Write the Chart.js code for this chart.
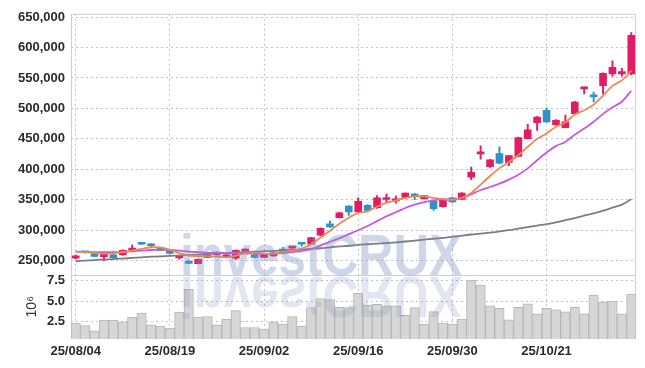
<!DOCTYPE html>
<html><head><meta charset="utf-8">
<script src="https://cdn.jsdelivr.net/npm/chart.js@4.4.1/dist/chart.umd.min.js"></script>
<style>html,body{margin:0;padding:0;background:#fff;overflow:hidden}#wrap{width:645px;height:368px;position:relative}</style>
</head><body><div id="wrap"><canvas id="c" width="645" height="368"></canvas></div>
<script>
// ---- data ----
const dates = ['25/08/04','25/08/05','25/08/06','25/08/07','25/08/08','25/08/11','25/08/12','25/08/13','25/08/14','25/08/18',
 '25/08/19','25/08/20','25/08/21','25/08/22','25/08/25','25/08/26','25/08/27','25/08/28','25/08/29','25/09/01',
 '25/09/02','25/09/03','25/09/04','25/09/05','25/09/08','25/09/09','25/09/10','25/09/11','25/09/12','25/09/15',
 '25/09/16','25/09/17','25/09/18','25/09/19','25/09/22','25/09/23','25/09/24','25/09/25','25/09/26','25/09/29',
 '25/09/30','25/10/01','25/10/02','25/10/10','25/10/13','25/10/14','25/10/15','25/10/16','25/10/17','25/10/20',
 '25/10/21','25/10/22','25/10/23','25/10/24','25/10/27','25/10/28','25/10/29','25/10/30','25/10/31','25/11/03'];
const xTickLabels = ['25/08/04','25/08/19','25/09/02','25/09/16','25/09/30','25/10/21'];
const priceTicks = [250000,300000,350000,400000,450000,500000,550000,600000,650000];
const volumeTicks = [2.5e6,5e6,7.5e6];
const opens  = [254000,263500,261500,256500,259500,259500,267500,277500,277500,271000,
 266500,254500,248000,245000,255500,259500,256500,254000,265500,259500,
 255500,258000,269000,270500,279500,277000,292000,310500,320500,339500,
 330000,341000,337000,350500,348000,354000,359500,352000,347500,338500,
 353000,350500,387000,425500,404500,426000,411500,421000,450500,476500,
 497000,473500,468500,491500,532000,521000,537500,556500,556500,556500];
const highs  = [259000,264000,262500,262000,265000,268000,276000,278500,278000,272000,
 267500,256500,250500,252500,260000,264000,260000,268000,269500,260000,
 261000,264000,272000,273000,280000,288500,304000,315000,329500,340500,
 353000,342000,357000,359500,356000,361500,360500,357500,348500,351000,
 354000,362000,403500,438500,416500,437000,423000,453000,474000,487000,
 501000,481500,489000,511500,535500,527000,558500,578000,566000,624500];
const lows   = [253000,262500,256000,250000,254500,259000,267000,276500,272000,266500,
 261000,252500,245000,244500,255000,259000,256000,252000,265000,254500,
 255000,257500,264500,270000,274000,276500,291000,304500,320000,324500,
 329000,331500,336000,346000,344500,353500,350000,351000,332500,338000,
 345500,350000,383000,416500,403000,409000,406000,420500,450000,464000,
 477000,472000,468000,491000,524000,510500,524000,553000,553000,555000];
const closes = [258000,263000,257000,260500,255000,267000,270000,277000,274500,267000,
 262000,255000,245500,252000,259500,263000,259500,267000,269000,255500,
 260500,263000,265000,272500,277000,288000,303000,305500,328500,330000,
 347500,332500,353000,353000,351500,361000,355500,357000,335500,350500,
 346500,361000,395000,428000,415500,410000,422500,452000,465000,486000,
 478000,480500,478000,510500,535000,519000,557500,567500,560500,620000];
const volumes = [2.32,2.03,1.39,2.68,2.68,2.48,3.04,3.53,2.11,1.95,
 1.71,3.65,6.43,3.04,3.12,2.11,2.80,3.84,1.79,1.79,
 1.59,2.44,2.20,3.12,1.95,4.20,5.29,5.17,4.25,4.20,
 5.94,4.49,4.61,4.41,4.41,3.28,4.20,2.20,3.72,2.32,
 2.20,2.80,7.55,6.94,4.41,4.13,2.72,4.25,4.65,3.44,
 4.13,3.92,3.68,4.25,3.44,5.74,4.89,5.01,3.44,5.86].map(v => v * 1e6);
const ma5 = [265,264,263,261.5,262,264,266.5,269.5,272,272,
 268,262.5,258.5,257.5,257.5,256.5,255.5,258,262.5,263,
 261.5,261.5,264,266,270,277,288,299,310.5,320.5,
 328.5,331,339,345,349,353,355.5,355.5,353,351,
 350,353,361,375,389,402,412,423,437,450,
 459,470,477,490,497,506,521,537,546,562].map(v => v * 1000);
const ma20 = [265,264.5,264,264,264,264.5,265.5,266.5,267.5,268,
 267.5,266.5,265,264,263,263,262.5,262,262,261.5,
 261,261.5,262.5,264,266,269,275,281,287,293.5,
 300,307,315,323,329.5,336.5,342,346,349,350.5,
 350.5,353,359,366,371,376.5,383,391,401.5,415,
 427.5,438.5,445,457,467,478,491,502,511,529].map(v => v * 1000);
const ma120 = [249,250,251,252,252.5,253.5,254.5,255.5,256.5,257,
 258,258.5,259.5,260,261,262,262.5,263.5,264,265,
 265.5,266,267,267.5,268.5,269.5,270.5,272,273.5,274.5,
 276,277,278,279,280,281.5,283,284.5,286,287.5,
 289,291,293,294.5,296,298,300,302.5,305,307.5,
 310,313,316.5,320,324,327.5,332,337,342,351].map(v => v * 1000);

// ---- styling ----
const UP = '#e31c64', DOWN = '#2f92c8';
const FONT = '"Liberation Sans", Arial, sans-serif';
const TICKFONT = { family: FONT, size: 13, weight: 'bold' };
const GRID = 'rgba(185,185,210,0.9)';
const candleColors = closes.map((c, i) => c >= opens[i] ? UP : DOWN);

const framePlugin = {
  id: 'frame',
  beforeDatasetsDraw(chart) {
    const {ctx, chartArea: a} = chart;
    const y = chart.scales.y;
    ctx.save();
    ctx.strokeStyle = '#cfcfcf';
    ctx.lineWidth = 1;
    ctx.beginPath();
    ctx.moveTo(a.left, a.top + 0.5); ctx.lineTo(a.right, a.top + 0.5);
    ctx.moveTo(a.left, Math.round(y.bottom) + 0.5); ctx.lineTo(a.right, Math.round(y.bottom) + 0.5);
    ctx.moveTo(Math.round(a.left) + 0.5, a.top); ctx.lineTo(Math.round(a.left) + 0.5, a.bottom);
    ctx.moveTo(Math.round(a.right) - 0.5, a.top); ctx.lineTo(Math.round(a.right) - 0.5, a.bottom);
    ctx.stroke();
    ctx.restore();
  }
};
const watermark = {
  id: 'wm',
  afterDraw(chart) {
    const ctx = chart.ctx;
    const txt = 'investCRUX';
    ctx.save();
    ctx.font = 'bold 58px "Liberation Sans", Arial, sans-serif';
    const w = ctx.measureText(txt).width;
    ctx.translate(180, 275);
    ctx.scale(282 / w, 1);
    ctx.fillStyle = 'rgba(120,140,190,0.36)';
    ctx.fillText(txt, 0, 0);
    ctx.scale(1, -1);
    ctx.fillStyle = 'rgba(120,140,190,0.22)';
    ctx.fillText(txt, 0, -2);
    ctx.restore();
  }
};

new Chart(document.getElementById('c'), {
  type: 'bar',
  data: {
    labels: dates,
    datasets: [
      { type: 'line', data: ma5, yAxisID: 'y', borderColor: '#ef8a4f', borderWidth: 1.8, pointRadius: 0, tension: 0.25, order: 0 },
      { type: 'line', data: ma20, yAxisID: 'y', borderColor: '#c957e6', borderWidth: 1.8, pointRadius: 0, tension: 0.25, order: 0 },
      { type: 'line', data: ma120, yAxisID: 'y', borderColor: '#7d7d7d', borderWidth: 1.8, pointRadius: 0, tension: 0.25, order: 0 },
      { data: dates.map((d, i) => [lows[i], highs[i]]), yAxisID: 'y', backgroundColor: candleColors, barThickness: 1.3, grouped: false, order: 1 },
      { data: dates.map((d, i) => [opens[i], closes[i]]), yAxisID: 'y', backgroundColor: candleColors, barThickness: 7, minBarLength: 2, grouped: false, order: 1 },
      { data: volumes, yAxisID: 'yv', backgroundColor: '#d6d6d6', borderColor: '#b5b5b5', borderWidth: 1, barPercentage: 1, categoryPercentage: 1, grouped: false, order: 2 }
    ]
  },
  options: {
    responsive: false,
    devicePixelRatio: 1,
    animation: false,
    layout: { padding: { left: 0, right: 9, top: 11, bottom: 0 } },
    plugins: { legend: { display: false }, tooltip: { enabled: false } },
    scales: {
      x: {
        offset: true,
        grid: { offset: false, color: GRID, borderDash: [2, 3], drawTicks: false },
        border: { display: false, dash: [2, 3] },
        ticks: { autoSkip: false, maxRotation: 0, padding: 5, color: '#2a2a2a', font: TICKFONT },
        afterBuildTicks(s) { s.ticks = s.ticks.filter(t => xTickLabels.includes(dates[t.value])); },
        afterFit(s) { s.height = 29; }
      },
      yv: {
        stack: 'p', stackWeight: 1, position: 'left',
        min: 390000, max: 8220000,
        grid: { color: GRID, drawTicks: false },
        border: { display: false, dash: [2, 3] },
        title: { display: true, text: '10⁶', color: '#333', font: { family: FONT, size: 14 }, padding: { top: 24, bottom: 0 } },
        ticks: { autoSkip: false, padding: 6, color: '#2a2a2a', font: TICKFONT,
          callback: v => (v / 1e6).toFixed(1) },
        afterBuildTicks(s) { s.ticks = volumeTicks.map(v => ({ value: v })); },
        afterFit(s) { s.width = 71; }
      },
      y: {
        stack: 'p', stackWeight: 4.046, position: 'left',
        min: 227200, max: 655400,
        grid: { color: GRID, drawTicks: false },
        border: { display: false, dash: [2, 3] },
        ticks: { autoSkip: false, padding: 6, color: '#2a2a2a', font: TICKFONT,
          callback: v => v.toLocaleString('en-US') },
        afterBuildTicks(s) { s.ticks = priceTicks.map(v => ({ value: v })); },
        afterFit(s) { s.width = 71; }
      }
    }
  },
  plugins: [framePlugin, watermark]
});
</script></body></html>
